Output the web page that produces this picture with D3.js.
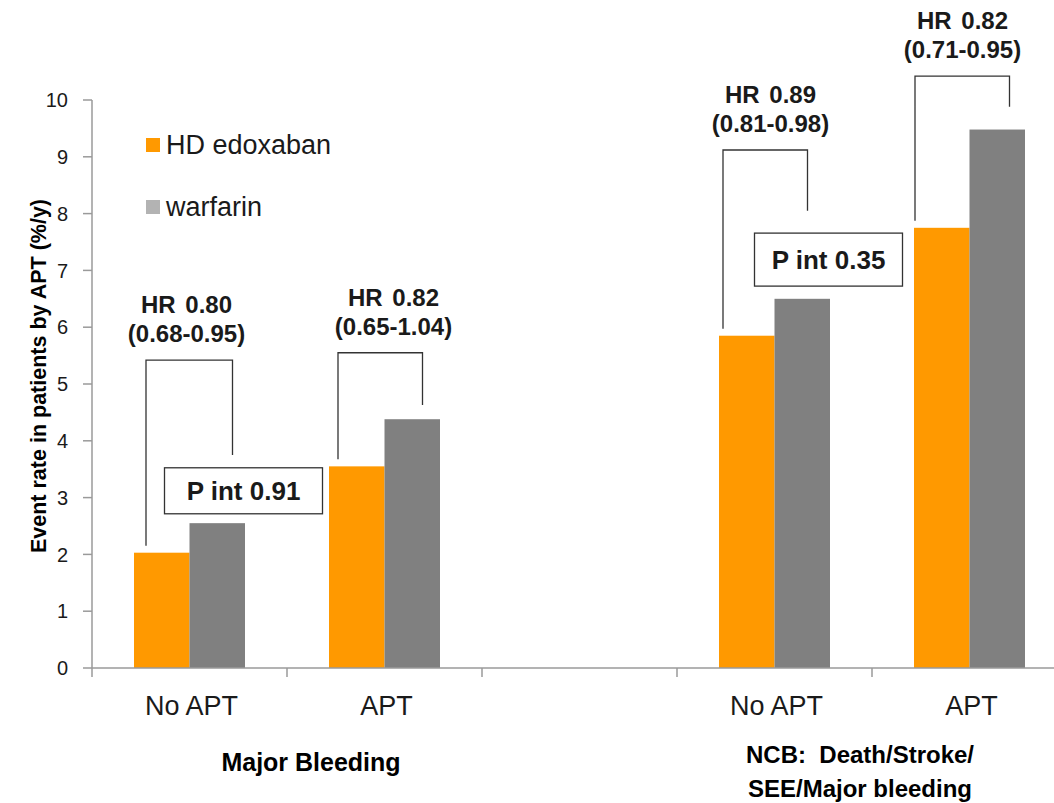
<!DOCTYPE html>
<meta charset="utf-8">
<style>
body { margin: 0; background: #fff; }
svg { font-family: "Liberation Sans", Arial, sans-serif; }
</style>
<svg width="1054" height="803"></svg>
<script src="https://d3js.org/d3.v7.min.js"></script>
<script>

// categories along the x axis ("gap" is the empty slot between the two groups)
var categories = ["mb-no", "mb-apt", "gap", "ncb-no", "ncb-apt"]
var catLabels = ["No APT", "APT", "", "No APT", "APT"]
var series = ["HD edoxaban", "warfarin"]
var edoxaban = [2.03, 3.55, null, 5.85, 7.75]
var warfarin = [2.55, 4.38, null, 6.5, 9.48]
var yTicks = [0, 1, 2, 3, 4, 5, 6, 7, 8, 9, 10]

// hazard ratio annotations, one per category with bars
var hrText = ["HR 0.80", "HR 0.82", null, "HR 0.89", "HR 0.82"]
var ciText = ["(0.68-0.95)", "(0.65-1.04)", null, "(0.81-0.98)", "(0.71-0.95)"]
var bracketTop = [5.42, 5.55, null, 9.12, 10.42]
var bracketRightEnd = [3.75, 4.63, null, 8.05, 9.88]
var pIntText = ["P int 0.91", "P int 0.35"]
var pIntLevel = [3.12, 7.19]

var colors = {"HD edoxaban": "#ff9900", "warfarin": "#808080"}
var legendColors = {"HD edoxaban": "#ff9900", "warfarin": "#b3b3b3"}

// small hand nudges for the annotation drawing
var bracketLeftDx = [12, 9, 0, 4, 1]
var bracketRightDx = [43, 38, 0, 33, 40]
var labelDx = [-3, 9, 0, -4, -7]

var svg = d3.select("svg")

var x = d3.scaleBand().domain(categories).range([92, 1067])
var y = d3.scaleLinear().domain([0, 10]).range([668, 100])
var groupW = 111
var xs = d3.scaleBand().domain(series).range([0, groupW])
var off = (x.bandwidth() - groupW) / 2

// y axis
svg.append("line")
   .attr("x1", 92).attr("x2", 92)
   .attr("y1", y(10)).attr("y2", y(0))
   .style("stroke", "#9a9a9a").style("stroke-width", 1.5)

svg.selectAll(".ytick")
   .data(yTicks)
   .enter().append("line")
   .attr("x1", 83).attr("x2", 92)
   .attr("y1", function(d) { return y(d) }).attr("y2", function(d) { return y(d) })
   .style("stroke", "#9a9a9a").style("stroke-width", 1.5)

svg.selectAll(".ylab")
   .data(yTicks)
   .enter().append("text")
   .attr("x", 68)
   .attr("y", function(d) { return y(d) })
   .attr("dy", "0.36em")
   .attr("text-anchor", "end")
   .style("font-size", "20px")
   .style("fill", "#1a1a1a")
   .text(function(d) { return d })

svg.append("text")
   .attr("transform", "translate(46,376) rotate(-90)")
   .attr("text-anchor", "middle")
   .style("font-size", "21.5px")
   .style("font-weight", "bold")
   .text("Event rate in patients by APT (%/y)")

// bars
var rows = []
categories.forEach(function(c, i) {
  if (edoxaban[i] != null) rows.push({cat: c, s: "HD edoxaban", v: edoxaban[i]})
  if (warfarin[i] != null) rows.push({cat: c, s: "warfarin", v: warfarin[i]})
})

svg.selectAll(".bar")
   .data(rows)
   .enter().append("rect")
   .attr("x", function(d) { return x(d.cat) + off + xs(d.s) })
   .attr("width", xs.bandwidth())
   .attr("y", function(d) { return y(d.v) })
   .attr("height", function(d) { return y(0) - y(d.v) })
   .style("fill", function(d) { return colors[d.s] })

// x axis
svg.append("line")
   .attr("x1", 92).attr("x2", 1054)
   .attr("y1", y(0)).attr("y2", y(0))
   .style("stroke", "#9a9a9a").style("stroke-width", 1.5)

svg.selectAll(".xtick")
   .data(categories)
   .enter().append("line")
   .attr("x1", function(d) { return x(d) }).attr("x2", function(d) { return x(d) })
   .attr("y1", y(0)).attr("y2", y(0) + 9)
   .style("stroke", "#9a9a9a").style("stroke-width", 1.5)

svg.selectAll(".xlab")
   .data(categories)
   .enter().append("text")
   .attr("x", function(d) { return x(d) + x.bandwidth() / 2 + 2 })
   .attr("y", 715)
   .attr("text-anchor", "middle")
   .style("font-size", "27px")
   .style("fill", "#1a1a1a")
   .text(function(d, i) { return catLabels[i] })

// group labels
svg.append("text")
   .attr("x", x("mb-apt") + 24)
   .attr("y", 771)
   .attr("text-anchor", "middle")
   .style("font-size", "25px").style("font-weight", "bold")
   .text("Major Bleeding")

svg.append("text")
   .attr("x", x("ncb-apt") - 12)
   .attr("y", 763)
   .attr("text-anchor", "middle")
   .style("font-size", "24px").style("font-weight", "bold")
   .style("white-space", "pre")
   .text("NCB:  Death/Stroke/")

svg.append("text")
   .attr("x", x("ncb-apt") - 12)
   .attr("y", 797)
   .attr("text-anchor", "middle")
   .style("font-size", "24px").style("font-weight", "bold")
   .text("SEE/Major bleeding")

// legend
var legend = svg.selectAll(".legend")
   .data(series)
   .enter().append("g")
   .attr("transform", function(d, i) { return "translate(146," + (138 + i * 62) + ")" })

legend.append("rect")
   .attr("width", 14).attr("height", 14)
   .style("fill", function(d) { return legendColors[d] })

legend.append("text")
   .attr("x", 20).attr("y", 16)
   .style("font-size", "27px")
   .style("fill", "#1a1a1a")
   .text(function(d) { return d })

// HR brackets and labels
categories.forEach(function(c, i) {
  if (hrText[i] == null) return
  var xl = x(c) + off + xs("HD edoxaban") + bracketLeftDx[i]
  var xr = x(c) + off + xs("warfarin") + bracketRightDx[i]
  var top = y(bracketTop[i])
  svg.append("path")
     .attr("d", "M" + xl + "," + (y(edoxaban[i]) - 7) + "V" + top + "H" + xr + "V" + y(bracketRightEnd[i]))
     .style("fill", "none").style("stroke", "#333").style("stroke-width", 1.3)
  var cx = x(c) + x.bandwidth() / 2 + labelDx[i]
  svg.append("text")
     .attr("x", cx).attr("y", top - 47)
     .attr("text-anchor", "middle")
     .style("font-size", "24px").style("font-weight", "bold")
     .style("word-spacing", "3px")
     .style("fill", "#1a1a1a")
     .text(hrText[i])
  svg.append("text")
     .attr("x", cx).attr("y", top - 18)
     .attr("text-anchor", "middle")
     .style("font-size", "24px").style("font-weight", "bold")
     .style("fill", "#1a1a1a")
     .text(ciText[i])
})

// P interaction boxes
var pBoxes = [
  {cat: "mb-no", w: 158, h: 46},
  {cat: "ncb-no", w: 148, h: 53}
]
pBoxes.forEach(function(b, i) {
  var cx = x(b.cat) + x.bandwidth() / 2 + 54
  var cy = y(pIntLevel[i])
  svg.append("rect")
     .attr("x", cx - b.w / 2).attr("y", cy - b.h / 2)
     .attr("width", b.w).attr("height", b.h)
     .style("fill", "#fff").style("stroke", "#333").style("stroke-width", 1.3)
  svg.append("text")
     .attr("x", cx).attr("y", cy)
     .attr("dy", "0.36em")
     .attr("text-anchor", "middle")
     .style("font-size", "26px").style("font-weight", "bold")
     .style("fill", "#1a1a1a")
     .text(pIntText[i])
})

</script>
</html>
